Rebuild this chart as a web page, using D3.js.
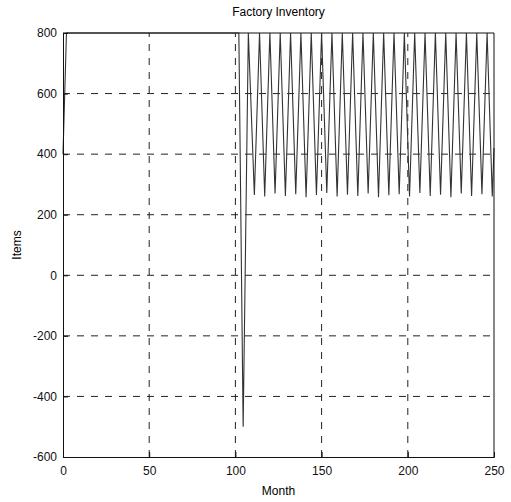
<!DOCTYPE html>
<html>
<head>
<meta charset="utf-8">
<script src="https://cdn.jsdelivr.net/npm/d3@7"></script>
<style>
  body { margin: 0; background: #fff; }
  text { font-family: "Liberation Sans", Arial, sans-serif; }
</style>
</head>
<body>
<script>
// turning points of the inventory trace
const months = [0, 2, 102, 104.5, 107.5,
  111, 114, 117, 120, 123, 126, 129, 132, 135, 138, 141, 144, 147, 150, 153, 156,
  159, 162, 165, 168, 171, 174, 177, 180, 183, 186, 189, 192, 195, 198, 201, 204,
  207, 210, 213, 216, 219, 222, 225, 228, 231, 234, 237, 240, 243, 246, 249, 250];
const items = [400, 800, 800, -500, 800,
  265, 800, 260, 800, 270, 800, 262, 800, 268, 800, 258, 800, 265, 800, 272, 800,
  260, 800, 266, 800, 262, 800, 270, 800, 258, 800, 264, 800, 268, 800, 260, 800,
  272, 800, 262, 800, 266, 800, 258, 800, 270, 800, 262, 800, 268, 800, 260, 420];

const xTicks = [0, 50, 100, 150, 200, 250];
const yTicks = [-600, -400, -200, 0, 200, 400, 600, 800];

const width = 511, height = 502;
const margin = {top: 33, right: 17, bottom: 45, left: 63};

const svg = d3.select('body').append('svg')
  .attr('width', width)
  .attr('height', height);

const x = d3.scaleLinear().domain([0, 250]).range([margin.left, width - margin.right]);
const y = d3.scaleLinear().domain([-600, 800]).range([height - margin.bottom, margin.top]);

const g = svg.append('g');

// dashed grid
g.selectAll('.vgrid')
  .data(xTicks.filter(d => d > 0 && d < 250))
  .enter().append('line')
  .attr('x1', d => x(d)).attr('x2', d => x(d))
  .attr('y1', y(-600)).attr('y2', y(800))
  .attr('stroke', '#222').attr('stroke-width', 1)
  .attr('stroke-dasharray', '7,7');

g.selectAll('.hgrid')
  .data(yTicks.filter(d => d > -600 && d < 800))
  .enter().append('line')
  .attr('x1', x(0)).attr('x2', x(250))
  .attr('y1', d => y(d)).attr('y2', d => y(d))
  .attr('stroke', '#222').attr('stroke-width', 1)
  .attr('stroke-dasharray', '7,7');

// data line
const line = d3.line()
  .x((d, i) => x(months[i]))
  .y(d => y(d));

g.append('path')
  .datum(items)
  .attr('d', line)
  .attr('fill', 'none')
  .attr('stroke', '#333')
  .attr('stroke-width', 1.1);

// axes (ticks inside, matlab style), plain hyphen for negatives
const fmt = d => String(d);
const xAxis = g.append('g')
  .attr('transform', 'translate(0,' + y(-600) + ')')
  .call(d3.axisBottom(x).tickValues(xTicks).tickFormat(fmt).tickSize(-5).tickPadding(9));
const yAxis = g.append('g')
  .attr('transform', 'translate(' + x(0) + ',0)')
  .call(d3.axisLeft(y).tickValues(yTicks).tickFormat(fmt).tickSize(-5).tickPadding(6));

[xAxis, yAxis].forEach(a => {
  a.select('.domain').attr('stroke', '#111');
  a.selectAll('.tick line').attr('stroke', '#111');
  a.selectAll('text').attr('font-size', 12).attr('fill', '#111')
    .style('font-family', '"Liberation Sans", Arial, sans-serif');
});

// top and right box edges
g.append('line')
  .attr('x1', x(0)).attr('x2', x(250))
  .attr('y1', y(800)).attr('y2', y(800))
  .attr('stroke', '#111');
g.append('line')
  .attr('x1', x(250)).attr('x2', x(250))
  .attr('y1', y(800)).attr('y2', y(-600))
  .attr('stroke', '#111');

// labels
svg.append('text')
  .attr('x', (x(0) + x(250)) / 2)
  .attr('y', 16)
  .attr('text-anchor', 'middle')
  .attr('font-size', 12)
  .text('Factory Inventory');

svg.append('text')
  .attr('x', (x(0) + x(250)) / 2)
  .attr('y', 495)
  .attr('text-anchor', 'middle')
  .attr('font-size', 12)
  .text('Month');

svg.append('text')
  .attr('transform', 'translate(21,' + ((y(800) + y(-600)) / 2) + ') rotate(-90)')
  .attr('text-anchor', 'middle')
  .attr('font-size', 12)
  .text('Items');
</script>
</body>
</html>
